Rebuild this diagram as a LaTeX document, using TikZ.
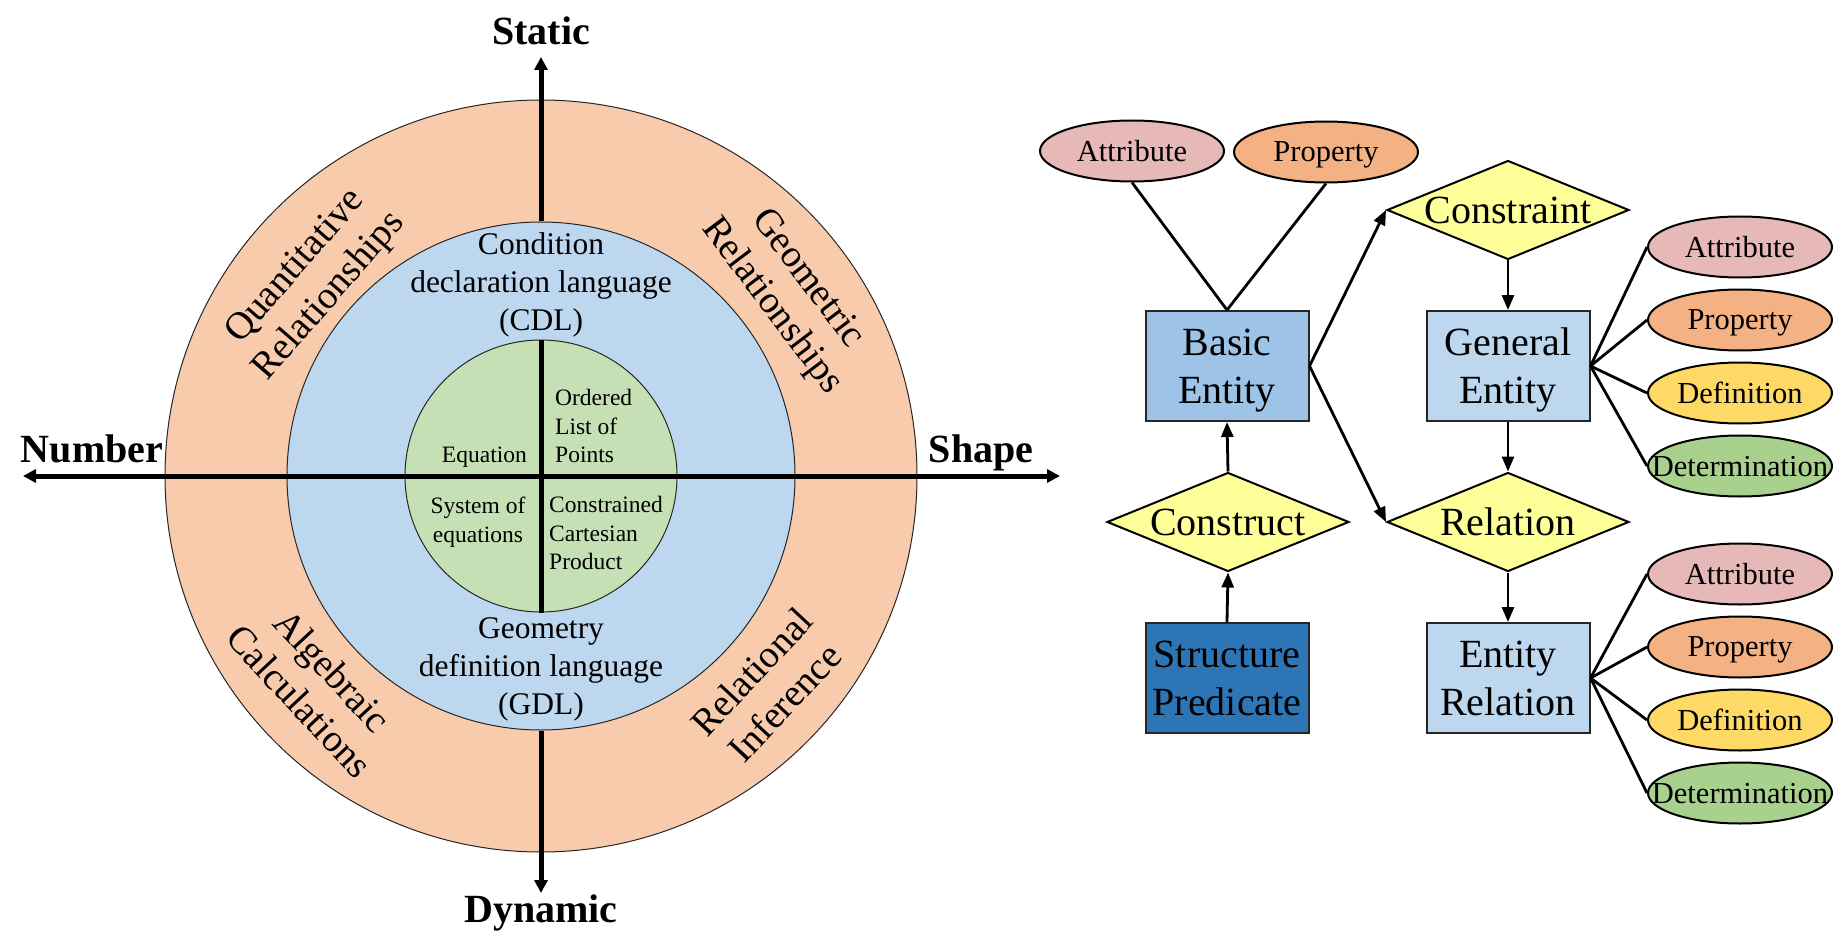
\documentclass[tikz,border=0pt]{standalone}
\usepackage{fontspec}
\setmainfont{Liberation Serif}
\newfontfamily\tnr{Liberation Serif}
\usetikzlibrary{arrows.meta,shapes.geometric}
\definecolor{ringc}{HTML}{F8CBAD}
\definecolor{bluec}{HTML}{BDD7EE}
\definecolor{greenc}{HTML}{C5E0B4}
\definecolor{attrc}{HTML}{E6B8B7}
\definecolor{propc}{HTML}{F4B183}
\definecolor{defc}{HTML}{FFD966}
\definecolor{detc}{HTML}{A9D18E}
\definecolor{diac}{HTML}{FFFF99}
\definecolor{basicc}{HTML}{9DC3E6}
\definecolor{structc}{HTML}{2E75B6}
% zero-width, zero-depth label (keeps shape size and vertical centring fixed)
\newcommand\zw[1]{\makebox[0pt][c]{\raisebox{0pt}[\height][0pt]{#1}}}
% two-line box label with fixed first-line height and last-line depth
\newcommand\twol[2]{\rule{0pt}{35pt}#1\\#2\rule[-9pt]{0pt}{9pt}}
\begin{document}
\begin{tikzpicture}[x=1pt,y=-1pt,
  disc/.style={circle, inner sep=0pt, draw=black!85, line width=1pt},
  axisline/.style={line width=5pt, black},
  axislab/.style={font=\tnr\fontsize{40}{48}\selectfont\bfseries, inner sep=0pt, anchor=base},
  ringtxt/.style={font=\tnr\fontsize{38.5}{45}\selectfont, align=center, inner sep=0pt},
  bluetxt/.style={font=\tnr\fontsize{31.5}{38}\selectfont, align=center, inner sep=0pt},
  greentxt/.style={font=\tnr\fontsize{23.5}{28.5}\selectfont, inner sep=0pt},
  ent/.style={rectangle, draw=black!85, line width=2pt, minimum width=163pt, minimum height=110pt, inner sep=2pt, align=center, font=\tnr\fontsize{40}{48}\selectfont},
  dia/.style={diamond, draw=black, line width=2pt, fill=diac, minimum width=242pt, minimum height=99pt, inner sep=0pt, font=\tnr\fontsize{40}{48}\selectfont},
  ell/.style={ellipse, draw=black, line width=2pt, minimum width=184pt, minimum height=61pt, inner sep=0pt, font=\tnr\fontsize{30.5}{36}\selectfont},
  conn/.style={line width=2.8pt, black},
  arr/.style={line width=2.8pt, black, -{Triangle[length=15pt,width=12pt]}}
]
\useasboundingbox (0,0) rectangle (1840,952);

% ---------- left: concentric circles ----------
\node[disc, fill=ringc, minimum size=752pt] (outer) at (541,476) {};
\node[disc, fill=bluec, minimum size=508pt] (blue) at (541,476) {};
\node[disc, fill=greenc, minimum size=272pt] (green) at (541,476) {};

\coordinate (tipN) at (541,57);
\coordinate (tipS) at (541,893);
\coordinate (tipW) at (23,476);
\coordinate (tipE) at (1060,476);

\draw[axisline, -{Triangle[length=13pt,width=13pt]}] (blue.north) -- (tipN);
\draw[axisline, -{Triangle[length=13pt,width=13pt]}] (blue.south) -- (tipS);
\draw[axisline] (green.north) -- (green.south);
\draw[axisline, {Triangle[length=13pt,width=13pt]}-{Triangle[length=13pt,width=13pt]}] (tipW) -- (tipE);

\node[axislab] (static) at (541,45) {Static};
\node[axislab] (dynamic) at (541,922) {Dynamic};
\node[axislab] (number) at (92,462) {Number};
\node[axislab] (shape) at (981,462) {Shape};

% ring texts
\node[ringtxt, rotate=49] (quant) at (313,282) {Quantitative\\Relationships};
\node[ringtxt, rotate=-53] (geom) at (789,293) {Geometric\\Relationships};
\node[ringtxt, rotate=-47] (alg) at (316,686) {Algebraic\\Calculations};
\node[ringtxt, rotate=47] (relinf) at (768,687) {Relational\\Inference};

% blue texts
\node[bluetxt] (cdl) at (541,284.5) {Condition\\declaration language\\(CDL)};
\node[bluetxt] (gdl) at (541,669.5) {Geometry\\definition language\\(GDL)};

% green texts
\node[greentxt, anchor=base east] (eq) at (527,462) {Equation};
\node[greentxt, anchor=north west, align=left] (olp) at (555,389) {Ordered\\List of\\Points};
\node[greentxt, align=center] (soe) at (478,522) {System of\\equations};
\node[greentxt, anchor=north west, align=left] (ccp) at (549,496) {Constrained\\Cartesian\\Product};

% ---------- right: entity diagram ----------
\node[ent, fill=basicc] (basic) at (1227,366) {\twol{Basic}{Entity}};
\node[ent, fill=bluec] (general) at (1508,366) {\twol{General}{Entity}};
\node[ent, fill=structc] (struct) at (1227,678) {\twol{Structure}{Predicate}};
\node[ent, fill=bluec] (entrel) at (1508,678) {\twol{Entity}{Relation}};

\node[dia] (constraint) at (1508,210) {\zw{Constraint}};
\node[dia] (relation) at (1508,522) {\zw{Relation}};
\node[dia] (construct) at (1228,522) {\zw{Construct}};

\node[ell, fill=attrc] (a0) at (1132,151) {\zw{Attribute}};
\node[ell, fill=propc] (p0) at (1326,152) {\zw{Property}};

\node[ell, fill=attrc] (a1) at (1740,247) {\zw{Attribute}};
\node[ell, fill=propc] (p1) at (1740,320) {\zw{Property}};
\node[ell, fill=defc] (d1) at (1740,393) {\zw{Definition}};
\node[ell, fill=detc] (t1) at (1740,466) {\zw{Determination}};

\node[ell, fill=attrc] (a2) at (1740,574) {\zw{Attribute}};
\node[ell, fill=propc] (p2) at (1740,647) {\zw{Property}};
\node[ell, fill=defc] (d2) at (1740,720) {\zw{Definition}};
\node[ell, fill=detc] (t2) at (1740,793) {\zw{Determination}};

\draw[conn] (a0.south) -- (basic.north);
\draw[conn] (p0.south) -- (basic.north);

\draw[arr] (basic.east) -- (constraint.west);
\draw[arr] (basic.east) -- (relation.west);
\draw[arr] (constraint.south) -- (general.north);
\draw[arr] (general.south) -- (relation.north);
\draw[arr] (relation.south) -- (entrel.north);
\draw[arr] (struct.north) -- (construct.south);
\draw[arr] (construct.north) -- (basic.south);

\foreach \n in {a1,p1,d1,t1} \draw[conn] (general.east) -- (\n.west);
\foreach \n in {a2,p2,d2,t2} \draw[conn] (entrel.east) -- (\n.west);
\end{tikzpicture}
\end{document}
